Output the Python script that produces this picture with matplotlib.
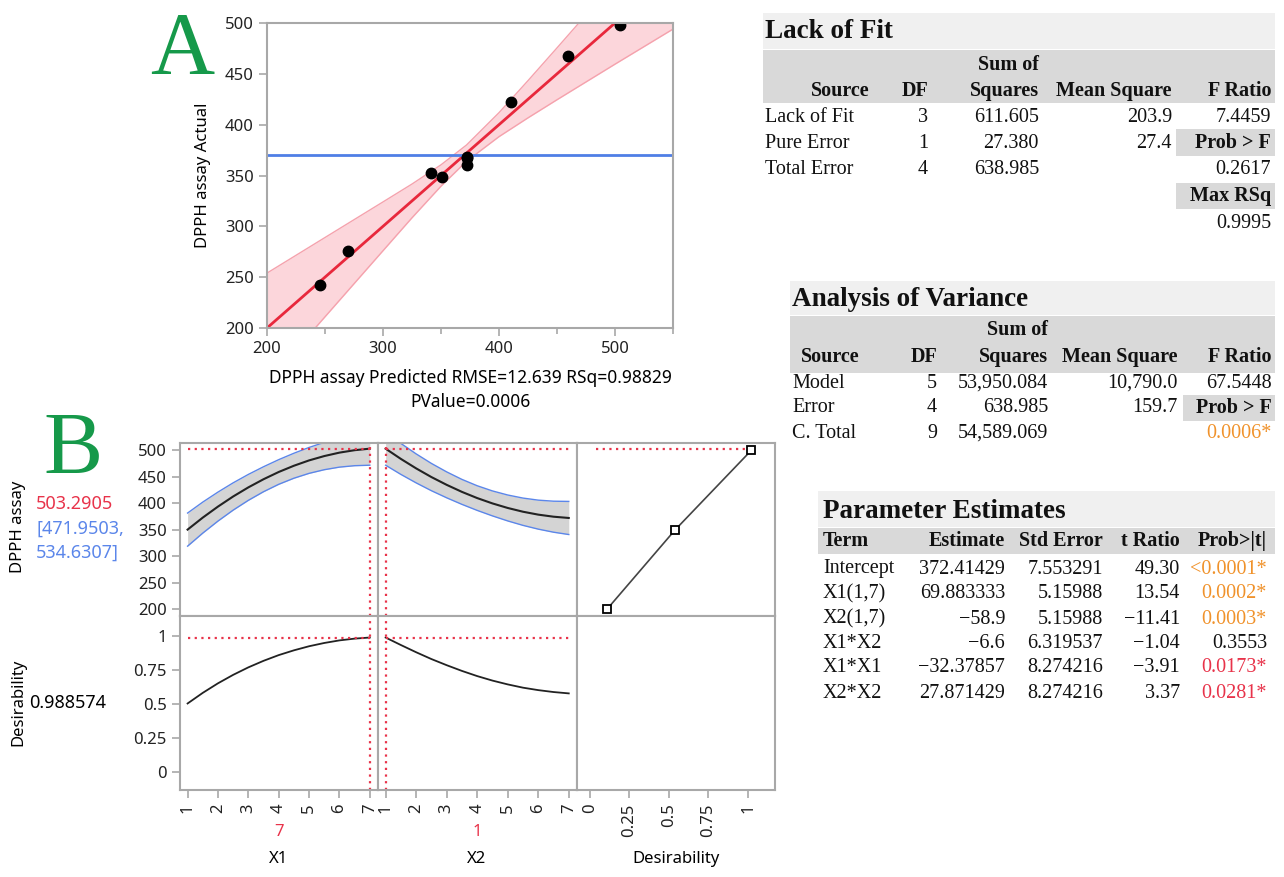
import numpy as np
import matplotlib
matplotlib.use('Agg')
import matplotlib.pyplot as plt
from matplotlib.patches import Rectangle

plt.rcParams['font.family'] = ['Noto Sans', 'DejaVu Sans']

W, H = 1284, 877

# ---- panel A: actual by predicted
pred = [245.3, 270.1, 341.1, 350.6, 372.4, 372.4, 372.3, 410.4, 459.5, 504.2]
actual = [242.4, 276.1, 352.5, 348.6, 368.4, 366.8, 360.8, 422.6, 467.6, 498.0]
mean_actual = 370.2
band_x = [200, 250, 300, 325, 350, 372, 400, 425, 450, 500, 550]
band_hw = [54, 39, 24, 16.6, 10.5, 8, 11.8, 18.3, 25.5, 40.5, 56]

# ---- panel B: prediction profiler
levels = [1, 1.5, 2, 2.5, 3, 3.5, 4, 4.5, 5, 5.5, 6, 6.5, 7]
dpph_x1 = [350.3, 373.0, 393.8, 412.9, 430.1, 445.5, 459.2, 471.0, 481.1, 489.3, 495.8, 500.4, 503.3]
dpph_x2 = [503.3, 483.9, 466.0, 449.6, 434.9, 421.6, 409.9, 399.8, 391.2, 384.1, 378.6, 374.7, 372.3]
ci_hw = [31.3, 29.3, 27.4, 25.8, 24.5, 23.6, 23.3, 23.6, 24.5, 25.8, 27.4, 29.3, 31.3]
des_x1 = [0.505, 0.583, 0.653, 0.715, 0.770, 0.818, 0.860, 0.895, 0.925, 0.949, 0.968, 0.981, 0.989]
des_x2 = [0.989, 0.934, 0.881, 0.831, 0.786, 0.744, 0.706, 0.673, 0.645, 0.621, 0.603, 0.589, 0.579]
des_fn_d = [0.11, 0.54, 1.02]
des_fn_y = [200, 350, 500]
cur_x1, cur_x2 = 7, 1
cur_pred = 503.2905
cur_lo, cur_hi = 471.9503, 534.6307
cur_des = 0.988574

# ---- tables
lof_rows = [["Lack of Fit", "3", "611.605", "203.9", "7.4459"],
            ["Pure Error", "1", "27.380", "27.4", ""],
            ["Total Error", "4", "638.985", "", ""]]
lof_prob = "0.2617"
lof_maxrsq = "0.9995"
anova_rows = [["Model", "5", "53,950.084", "10,790.0", "67.5448"],
              ["Error", "4", "638.985", "159.7", ""],
              ["C. Total", "9", "54,589.069", "", ""]]
anova_prob = "0.0006*"
pe_terms = ["Intercept", "X1(1,7)", "X2(1,7)", "X1*X2", "X1*X1", "X2*X2"]
pe_est = ["372.41429", "69.883333", "\u221258.9", "\u22126.6", "\u221232.37857", "27.871429"]
pe_se = ["7.553291", "5.15988", "5.15988", "6.319537", "8.274216", "8.274216"]
pe_t = ["49.30", "13.54", "\u221211.41", "\u22121.04", "\u22123.91", "3.37"]
pe_p = ["<0.0001*", "0.0002*", "0.0003*", "0.3553", "0.0173*", "0.0281*"]

ORANGE = '#f0922b'
RED = '#e8334a'
BLUE = '#5b86ea'
GREEN = '#16994a'
FRAME = '#a8a8a8'
SERIF = 'Liberation Serif'


def px(x0, y0, x1, y1):
    return [x0 / W, 1 - y1 / H, (x1 - x0) / W, (y1 - y0) / H]


def frame(ax):
    for s in ax.spines.values():
        s.set_color(FRAME)
        s.set_linewidth(1.5)
    ax.tick_params(color=FRAME, labelcolor='#222222', labelsize=12, length=6, width=1.2)


fig = plt.figure(figsize=(W / 100, H / 100), dpi=100)
ov = fig.add_axes([0, 0, 1, 1])
ov.set_xlim(0, W)
ov.set_ylim(H, 0)
ov.axis('off')

# ---- panel A
axA = fig.add_axes(px(267, 23, 673, 328))
bx = np.array(band_x, float)
hw = np.array(band_hw, float)
axA.fill_between(bx, bx - hw, bx + hw, color='#fcd6db', lw=0)
axA.plot(bx, bx + hw, color='#f5a2ad', lw=1)
axA.plot(bx, bx - hw, color='#f5a2ad', lw=1)
axA.plot([200, 550], [200, 550], color='#e8283c', lw=2)
axA.axhline(mean_actual, color='#4f7fe6', lw=2)
axA.plot(pred, actual, 'o', color='black', ms=7.5)
axA.set_xlim(200, 550)
axA.set_ylim(200, 500)
axA.set_xticks([200, 300, 400, 500])
axA.set_xticks([250, 350, 450, 550], minor=True)
axA.set_yticks(range(200, 501, 50))
frame(axA)
axA.tick_params(which='minor', color=FRAME, length=4, width=1.2)
ov.text(203, 175, "DPPH assay Actual", rotation=90, ha='center', va='center', fontsize=12)
ov.text(470, 378, "DPPH assay Predicted RMSE=12.639 RSq=0.98829", ha='center', va='center', fontsize=12.5)
ov.text(470, 402, "PValue=0.0006", ha='center', va='center', fontsize=12.5)
ov.text(150, 73, "A", family=SERIF, color=GREEN, fontsize=64, ha='left', va='baseline')
ov.text(43, 473, "B", family=SERIF, color=GREEN, fontsize=64, ha='left', va='baseline')

# ---- panel B
cols = [(180, 378), (378, 577), (577, 775)]
rows = [(443, 616), (616, 790)]
lv = np.array(levels)
curves = [(np.array(dpph_x1), np.array(des_x1), cur_x1), (np.array(dpph_x2), np.array(des_x2), cur_x2)]
dot = (0, (1, 2))
for c, (x0, x1) in enumerate(cols):
    for r, (y0, y1) in enumerate(rows):
        ax = fig.add_axes(px(x0, y0, x1, y1))
        frame(ax)
        if c < 2:
            ax.set_xlim(0.75, 7.27)
            ax.set_xticks(range(1, 8))
        else:
            ax.set_xlim(-0.08, 1.17)
            ax.set_xticks([0, 0.25, 0.5, 0.75, 1])
            ax.set_xticklabels(['0', '0.25', '0.5', '0.75', '1'])
        if r == 0:
            ax.set_ylim(187, 514)
            ax.set_yticks(range(200, 501, 50))
        else:
            ax.set_ylim(-0.13, 1.147)
            ax.set_yticks([0, 0.25, 0.5, 0.75, 1])
            ax.set_yticklabels(['0', '0.25', '0.5', '0.75', '1'])
        if c > 0:
            ax.tick_params(axis='y', left=False, labelleft=False)
        if r == 0:
            ax.tick_params(axis='x', bottom=False, labelbottom=False)
        else:
            ax.tick_params(axis='x', labelrotation=90)
        if c < 2:
            yv, dv, cur = curves[c]
            if r == 0:
                ci = np.array(ci_hw)
                ax.fill_between(lv, yv - ci, yv + ci, color='#d4d4d4', lw=0)
                ax.plot(lv, yv + ci, color=BLUE, lw=1)
                ax.plot(lv, yv - ci, color=BLUE, lw=1)
                ax.plot(lv, yv, color='#222222', lw=1.5)
                ax.plot([1, 7], [cur_pred, cur_pred], color=RED, lw=1.6, ls=dot)
            else:
                ax.plot(lv, dv, color='#222222', lw=1.3)
                ax.plot([1, 7], [cur_des, cur_des], color=RED, lw=1.6, ls=dot)
            ax.axvline(cur, color=RED, lw=1.6, ls=dot)
        elif r == 0:
            ax.plot([0.04, des_fn_d[-1]], [cur_pred, cur_pred], color=RED, lw=1.6, ls=dot)
            ax.plot(des_fn_d, des_fn_y, color='#444444', lw=1.2)
            ax.plot(des_fn_d, des_fn_y, 's', mfc='white', mec='black', ms=6, mew=1.3)

ov.text(18, 527, "DPPH assay", rotation=90, ha='center', va='center', fontsize=12)
ov.text(36, 504, "%.4f" % cur_pred, color=RED, ha='left', va='center', fontsize=13)
ov.text(36, 529, "[%.4f," % cur_lo, color=BLUE, ha='left', va='center', fontsize=13)
ov.text(36, 553, "%.4f]" % cur_hi, color=BLUE, ha='left', va='center', fontsize=13)
ov.text(18, 702, "Desirability", rotation=90, ha='center', va='center', fontsize=12)
ov.text(29, 703, "%.6f" % cur_des, ha='left', va='center', fontsize=13)
ov.text(279, 832, str(cur_x1), color=RED, ha='center', va='center', fontsize=12)
ov.text(279, 859, "X1", ha='center', va='center', fontsize=12)
ov.text(477, 832, str(cur_x2), color=RED, ha='center', va='center', fontsize=12)
ov.text(477, 859, "X2", ha='center', va='center', fontsize=12)
ov.text(676, 859, "Desirability", ha='center', va='center', fontsize=12)

# ---- tables
LIGHT = '#f0f0f0'
DARK = '#d9d9d9'
FS = 14.5


def bar(x0, y0, x1, y1, color):
    ov.add_patch(Rectangle((x0, y0), x1 - x0, y1 - y0, color=color, lw=0))


def t(x, y, s, ha='right', bold=False, color='#111111', fs=FS):
    ov.text(x, y, s, ha=ha, va='center', family=SERIF, fontsize=fs,
            fontweight='bold' if bold else 'normal', color=color)


# Lack of Fit
bar(763, 13, 1275, 49, LIGHT)
bar(763, 50, 1275, 103, DARK)
t(765, 32, "Lack of Fit", ha='left', bold=True, fs=19.5)
t(1039, 65, "Sum of", bold=True)
for xr, h in zip([870, 928, 1039, 1172, 1271], ["Source", "DF", "Squares", "Mean Square", "F Ratio"]):
    t(xr, 91, h, bold=True)
for row, y in zip(lof_rows, [117, 143, 170]):
    t(765, y, row[0], ha='left')
    for xr, v in zip([928, 1039, 1172, 1271], row[1:]):
        t(xr, y, v)
bar(1176, 129, 1275, 156, DARK)
t(1271, 143, "Prob > F", bold=True)
t(1271, 170, lof_prob)
bar(1176, 183, 1275, 209, DARK)
t(1271, 196, "Max RSq", bold=True)
t(1271, 223, lof_maxrsq)

# Analysis of Variance
bar(790, 281, 1275, 315, LIGHT)
bar(790, 316, 1275, 373, DARK)
t(792, 299, "Analysis of Variance", ha='left', bold=True, fs=19.5)
t(1048, 330, "Sum of", bold=True)
for xr, h in zip([860, 937, 1048, 1178, 1272], ["Source", "DF", "Squares", "Mean Square", "F Ratio"]):
    t(xr, 357, h, bold=True)
for row, y in zip(anova_rows, [383, 408, 433]):
    t(792, y, row[0], ha='left')
    for xr, v in zip([937, 1048, 1178, 1272], row[1:]):
        t(xr, y, v)
bar(1183, 395, 1275, 421, DARK)
t(1272, 408, "Prob > F", bold=True)
t(1272, 433, anova_prob, color=ORANGE)

# Parameter Estimates
bar(818, 491, 1275, 527, LIGHT)
bar(818, 528, 1275, 554, DARK)
t(823, 511, "Parameter Estimates", ha='left', bold=True, fs=19.5)
t(823, 541, "Term", ha='left', bold=True)
for xr, h in zip([1005, 1103, 1180, 1267], ["Estimate", "Std Error", "t Ratio", "Prob>|t|"]):
    t(xr, 541, h, bold=True)
for i, y in enumerate([569, 594, 619, 644, 668, 693]):
    t(823, y, pe_terms[i], ha='left')
    t(1005, y, pe_est[i])
    t(1103, y, pe_se[i])
    t(1180, y, pe_t[i])
    pv = pe_p[i]
    col = '#111111'
    if pv.endswith('*'):
        col = ORANGE if float(pv.strip('<*')) < 0.01 else RED
    t(1267, y, pv, color=col)

fig.savefig('out.png', dpi=100)
